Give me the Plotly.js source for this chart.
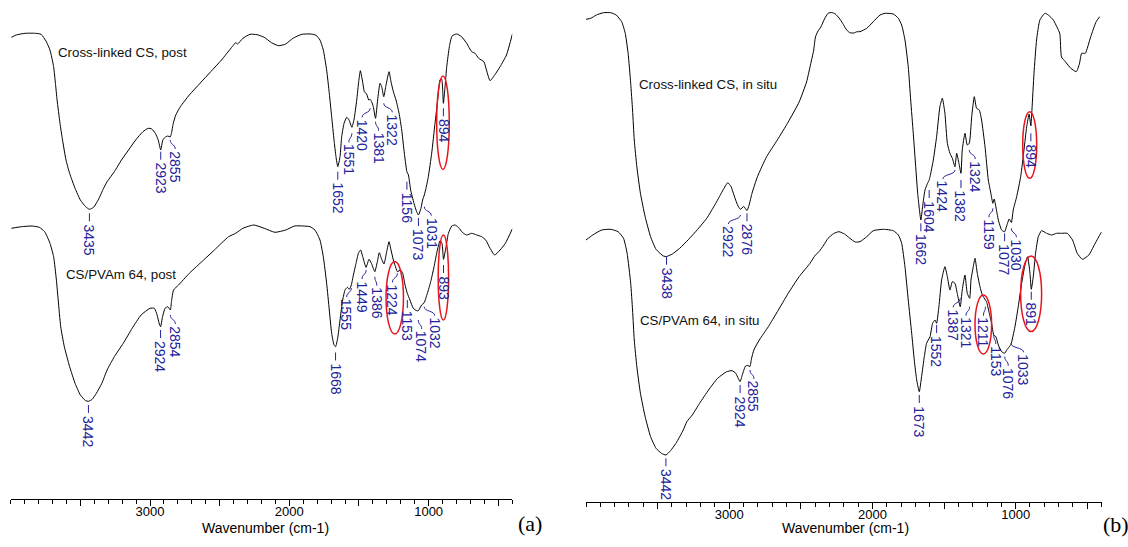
<!DOCTYPE html>
<html>
<head>
<meta charset="utf-8">
<script src="https://cdn.plot.ly/plotly-3.0.1.min.js"></script>
<style>
  html, body { margin: 0; padding: 0; background: #fff; }
  #chart { width: 1128px; height: 547px; }
</style>
</head>
<body>
<div id="chart"></div>
<script>
// ---------- FTIR spectra (wavenumber in cm-1, transmittance in arbitrary offset units) ----------

// (a) Cross-linked CS, post
const wnCSPost = [3995,3961,3897,3821,3782,3744,3718,3692,3679,3667,3646,3628,3603,3577,3538,3500,3462,3435,3405,3372,3333,3308,3256,3205,3154,3103,3051,3013,2987,2962,2941,2923,2908,2892,2872,2855,2846,2833,2815,2782,2718,2641,2564,2487,2410,2385,2372,2333,2282,2231,2180,2128,2077,2026,1974,1910,1846,1808,1780,1756,1732,1713,1696,1679,1665,1652,1636,1624,1607,1588,1571,1551,1536,1516,1502,1490,1476,1461,1445,1430,1420,1409,1397,1381,1366,1349,1337,1322,1308,1284,1270,1253,1234,1212,1193,1177,1156,1145,1129,1105,1086,1073,1055,1043,1031,1019,1002,978,954,935,918,906,894,882,870,851,832,799,763,727,691,667,641,603,585,559,526,487,441,397];
const tCSPost = [461.7,464,465.7,465.7,464.7,457.3,449,432.3,415.7,399,375.7,359,339,325.7,310.7,299,292.3,289.7,291.7,299,310.7,317.3,327.3,339,349,359,367.3,370.7,370,365.7,359,349,359,361.7,363,362,365.7,375.7,384,392.3,404,415.7,427.3,439,452.3,456.3,455,460.7,464.7,464.3,461.7,456.3,453.3,455,460.7,464.7,465,463.7,459,449,429,405.7,382.3,359,342.3,332.3,342.3,362.3,375.7,381.7,379,371.7,379,399,417.3,428.3,419,407.3,405,399,399.7,397.3,392.3,380.7,399,415.7,412.3,402.3,412.3,427.3,417.3,407.3,399,385.7,369,349,327.3,324,309,295.7,287.3,284,290.7,299,304,310.7,322.3,345.7,375.7,399,419,419.7,395.7,412.3,432.3,452.3,463,465,462.3,455.7,447.3,445.7,440.7,437.3,429,418.3,424,432.3,444,465.7];

// (a) CS/PVAm 64, post
const wnBlendPost = [3995,3923,3846,3795,3756,3718,3692,3672,3659,3641,3615,3577,3538,3500,3462,3442,3415,3385,3346,3308,3256,3192,3128,3064,3000,2969,2949,2935,2924,2910,2892,2872,2854,2846,2831,2795,2718,2615,2538,2436,2385,2333,2256,2180,2103,2026,1962,1899,1851,1816,1780,1756,1732,1713,1696,1679,1668,1653,1636,1617,1600,1583,1569,1555,1540,1521,1504,1488,1473,1449,1428,1411,1397,1386,1368,1354,1337,1320,1301,1284,1270,1253,1234,1224,1201,1186,1169,1153,1134,1110,1086,1074,1050,1032,1009,985,961,937,918,904,893,875,858,834,810,787,755,727,691,655,619,590,559,526,487,449,397];
const tBlendPost = [270.7,272.3,273,271.7,267.3,255.7,242.3,219,199,172.3,152.3,132.3,115.7,104,98.3,97.7,99.7,105.7,115.7,129,142.3,155.7,170.7,184,190.7,190.7,184,176,172.3,182.3,190.7,192.3,189,197.3,209,214,225.7,239,249,262.3,265.7,270.7,274,270.7,266.7,269,273,273,272.3,269,259,242.3,215.7,189,165.7,154,152.3,160.7,179,199,209,211.7,209.7,214,224,235.7,245.7,249,242.3,231.7,239.7,235.7,230.7,227.3,237.3,246.3,239.7,235,247.3,257.3,249,239,230.7,227.3,229,225.7,214,205.7,199,190.7,188.3,188.3,194,196.3,205.7,217.3,232.3,249,258.3,255.7,239.7,252.3,265.7,273,274,271.7,266.3,264,265.7,264,262.3,259,250.7,244,249,255.7,270.7];

// (b) Cross-linked CS, in situ
const wnCSInSitu = [4000,3966,3928,3878,3827,3789,3751,3726,3706,3688,3675,3663,3645,3620,3587,3549,3511,3460,3438,3397,3346,3283,3220,3157,3094,3043,3010,2987,2967,2942,2922,2899,2876,2861,2841,2803,2739,2664,2588,2512,2460,2436,2410,2398,2380,2360,2335,2310,2285,2259,2233,2208,2180,2158,2130,2107,2087,2040,1994,1947,1912,1854,1819,1796,1773,1750,1733,1715,1698,1684,1662,1650,1633,1615,1604,1598,1575,1552,1529,1512,1494,1477,1459,1442,1424,1412,1396,1382,1373,1354,1338,1324,1307,1289,1273,1254,1238,1214,1191,1175,1159,1150,1138,1121,1098,1077,1063,1045,1030,1017,993,965,942,923,906,894,886,872,854,831,796,772,737,702,691,680,653,615,577,555,539,514,476,438,413];
const tCSInSitu = [482.7,483.7,487,489.3,489.3,487,480.3,468.7,448.7,418.7,392,362,335.3,308.7,285.3,265.3,252.7,246,245.5,248,253.7,262.7,272.7,283.7,298.7,312,319.3,315.3,307,297,292.7,295.5,291.5,297,308.7,325.3,345.3,362,380,400,420,435,452,465,471,475,483,488.7,489.5,488,484,478.7,472,469.3,469,470.3,470.3,473.7,480.3,487,488.7,488,483.7,477,462,435.3,402,368.7,335.3,308.7,282,295.3,312,318.7,322,325.3,342,365.3,395.3,403.7,388.7,358.7,348.7,343.7,335.3,348.7,338.7,328.7,352,368.7,357,358.7,385.3,405.3,393.7,392,382,355.3,322,310,298.7,303,295,282,272,270.3,276,283,279.5,292,305.3,325.3,352,375.3,388,376,393,428.7,462,482,488.7,487,482,472,468,445,440.3,433.7,430.3,438,448.7,448.7,465.3,480.3,485.3];

// (b) CS/PVAm 64, in situ
const wnBlendInSitu = [4000,3953,3890,3827,3776,3738,3713,3688,3675,3663,3645,3620,3587,3549,3511,3473,3442,3410,3372,3321,3296,3258,3207,3144,3081,3018,2980,2954,2937,2924,2909,2886,2870,2855,2845,2828,2790,2727,2664,2588,2512,2436,2398,2373,2340,2310,2270,2234,2195,2158,2120,2087,2040,1994,1924,1854,1819,1796,1773,1750,1726,1708,1691,1673,1657,1638,1622,1598,1580,1563,1552,1536,1517,1494,1477,1459,1442,1424,1408,1387,1373,1354,1338,1321,1312,1296,1284,1268,1249,1233,1211,1203,1184,1168,1153,1138,1121,1098,1076,1063,1044,1033,1005,982,958,935,917,900,891,877,861,842,819,784,749,714,679,640,603,570,534,489,451,413,400];
const tBlendInSitu = [262,267,272,272.7,270.3,263.7,248.7,218.7,192,162,135.3,108.7,85.3,65.3,53.7,48.7,47,51.3,58.7,72,80.3,87,98.7,112,123.7,130.3,131.3,128.7,123.7,120.3,127,136,136.5,135.5,143,152,162,175.3,190.3,208.7,225.3,238.7,247,250.3,257,263.7,268.5,270.3,268,263.7,260,260.3,265.3,271.3,272.7,271.3,267,258.7,235.3,202,168.7,142,122,110.3,125.3,145.3,158.7,165.3,178.7,182,178.7,195.3,222,235.3,225.3,212,220.3,218.7,208.7,195.3,212,227,208.7,203.7,222,235.3,243.7,228.7,215.3,207,202,200.3,188.7,178.7,167,165.3,157,150.3,148.7,152,155.3,157.5,175.3,195.3,218.7,237,245.3,228.7,212.7,225.3,248.7,265.3,271.3,268.7,267,268.7,268.7,268.7,262,248.7,242.7,247,257,267,270];

// ---------- Assigned band positions (cm-1) ----------
const peaksCSPost      = [3435, 2923, 2855, 1652, 1551, 1420, 1381, 1322, 1156, 1073, 1031, 894];
const peaksBlendPost   = [3442, 2924, 2854, 1668, 1555, 1449, 1386, 1224, 1153, 1074, 1032, 893];
const peaksCSInSitu    = [3438, 2922, 2876, 1662, 1604, 1424, 1382, 1324, 1159, 1077, 1030, 894];
const peaksBlendInSitu = [3442, 2924, 2855, 1673, 1552, 1387, 1321, 1211, 1153, 1076, 1033, 891];

const seriesNames = ['Cross-linked CS, post', 'CS/PVAm 64, post', 'Cross-linked CS, in situ', 'CS/PVAm 64, in situ'];
const tickValues = [3500, 3000, 2500, 2000, 1500, 1000, 500];
const tickLabels = ['', '3000', '', '2000', '', '1000', ''];
const axisTitle = 'Wavenumber (cm-1)';
const panelTags = ['(a)', '(b)'];

// ---------- Label placement: [horizontal shift in px, label top in plot units] ----------
const placeCSPost = [[0,285.7],[0,347.3],[5,359],[0,327.3],[-3,365.7],[-8,390.7],[3,377.3],[8.5,395.7],[0,317.3],[0,281],[7,292.3],[0,390.7]];
const placeBlendPost = [[0,94],[0,169],[5,184],[0,146.5],[-4.6,211],[-4,229],[2,222.3],[-5,225.7],[0,199],[3.4,179],[10.6,192.3],[0,234]];
const placeCSInSitu = [[0,245.3],[-12,287],[0,288.7],[0,278.7],[0,312],[-12,332],[0,322],[6,352],[-4,293.7],[0,268.7],[5,273.7],[0,368.7]];
const placeBlendInSitu = [[0,43.7],[0,117],[4,132],[0,107],[0,177],[-7,203.7],[-3.7,195.3],[-2,195.3],[2,167],[3.5,145.3],[12.7,158.7],[0,210.3]];

// Highlight ellipses: [centre wavenumber, centre height, x radius px, y radius px]
const ringsA = [[897,376.3,6.3,46.7],[1243,201.2,8.7,36.2],[894,221.5,5.2,42.5]];
const ringsB = [[902,357,7,33.3],[1226,177.5,8.3,29.5],[892,208.2,10.5,37.8]];

// ---------- Styling ----------
const SANS = 'Liberation Sans, Arial, Helvetica, sans-serif';
const SERIF = 'Liberation Serif, Times New Roman, serif';
const BLUE = '#22229a';
const RED = '#e8141b';
const W = 1128, H = 547, MB = 45, PLOT_H = H - MB;

const traces = [
  [wnCSPost, tCSPost, 'x', 'y'],
  [wnBlendPost, tBlendPost, 'x', 'y'],
  [wnCSInSitu, tCSInSitu, 'x2', 'y2'],
  [wnBlendInSitu, tBlendInSitu, 'x2', 'y2']
].map(([x, y, xa, ya], i) => ({
  type: 'scatter', mode: 'lines', x, y, xaxis: xa, yaxis: ya, name: seriesNames[i],
  line: { color: '#000', width: 1, shape: 'spline', smoothing: 0.5 },
  hoverinfo: 'skip', showlegend: false
}));

const shapes = [];
const annotations = [];

function peakLabels(peaks, place, xref, yref) {
  peaks.forEach((wn, i) => {
    const dx = place[i][0], top = place[i][1];
    const path = dx === 0 ? 'M0,0L0,-8' : `M0,0C0,-5 ${dx},-4 ${dx},-9`;
    shapes.push({
      type: 'path', xref, yref, xsizemode: 'pixel', ysizemode: 'pixel',
      xanchor: wn, yanchor: top, path, line: { color: BLUE, width: 1 }
    });
    annotations.push({
      xref, yref, x: wn, y: top, xshift: dx, yshift: -10,
      text: String(wn), textangle: 90, showarrow: false,
      xanchor: 'center', yanchor: 'top', borderpad: 0,
      font: { family: SANS, size: 14, color: BLUE }
    });
  });
}
peakLabels(peaksCSPost, placeCSPost, 'x', 'y');
peakLabels(peaksBlendPost, placeBlendPost, 'x', 'y');
peakLabels(peaksCSInSitu, placeCSInSitu, 'x2', 'y2');
peakLabels(peaksBlendInSitu, placeBlendInSitu, 'x2', 'y2');

function rings(list, xref, yref) {
  list.forEach(([wn, h, rx, ry]) => {
    shapes.push({
      type: 'circle', xref, yref, xsizemode: 'pixel', ysizemode: 'pixel',
      xanchor: wn, yanchor: h, x0: -rx, x1: rx, y0: -ry, y1: ry,
      line: { color: RED, width: 1.5 }
    });
  });
}
rings(ringsA, 'x', 'y');
rings(ringsB, 'x2', 'y2');

// Spectrum names
[[seriesNames[0], 3194, 446.5, 'x', 'y'],
 [seriesNames[1], 3208, 225, 'x', 'y'],
 [seriesNames[2], 3151, 418, 'x2', 'y2'],
 [seriesNames[3], 3204, 182, 'x2', 'y2']].forEach(([text, x, y, xref, yref]) => {
  annotations.push({ xref, yref, x, y, text, showarrow: false, xanchor: 'center', yanchor: 'middle',
    font: { family: SANS, size: 13.3, color: '#111' } });
});

// Axis titles and panel tags
[[265, axisTitle, -26, SANS, 14], [845, axisTitle, -26, SANS, 14],
 [530, panelTags[0], -21, SERIF, 22], [1116, panelTags[1], -22, SERIF, 22]].forEach(([px, text, ys, fam, sz]) => {
  annotations.push({ xref: 'paper', yref: 'paper', x: px / W, y: 0, yshift: ys, text, showarrow: false,
    xanchor: 'center', yanchor: 'middle', borderpad: 0, font: { family: fam, size: sz, color: '#000' } });
});

function xAxis(domain, anchor) {
  return {
    domain, anchor, range: [4000, 400], showline: true, linecolor: '#000', linewidth: 1,
    ticks: 'outside', ticklen: 6, tickwidth: 1, tickcolor: '#000',
    tickmode: 'array', tickvals: tickValues, ticktext: tickLabels,
    ticklabelstandoff: -6,
    minor: { tickmode: 'linear', tick0: 0, dtick: 100, ticks: 'outside', ticklen: 4, tickwidth: 1, tickcolor: '#000' },
    showgrid: false, zeroline: false, fixedrange: true,
    tickfont: { family: SANS, size: 13, color: '#000' }
  };
}
function yAxis(domain, range, anchor) {
  return { domain, range, anchor, visible: false, showgrid: false, zeroline: false, fixedrange: true };
}

const layout = {
  width: W, height: H,
  margin: { l: 0, r: 0, t: 0, b: MB, pad: 0 },
  paper_bgcolor: '#fff', plot_bgcolor: '#fff',
  showlegend: false,
  xaxis: xAxis([10.7 / W, 512.2 / W], 'y'),
  yaxis: yAxis([3 / PLOT_H, 1], [0, 499], 'x'),
  xaxis2: xAxis([586 / W, 1101.6 / W], 'y2'),
  yaxis2: yAxis([0, 1], [0, 502], 'x2'),
  shapes, annotations
};

Plotly.newPlot('chart', traces, layout, { displayModeBar: false, staticPlot: true });
</script>
</body>
</html>
